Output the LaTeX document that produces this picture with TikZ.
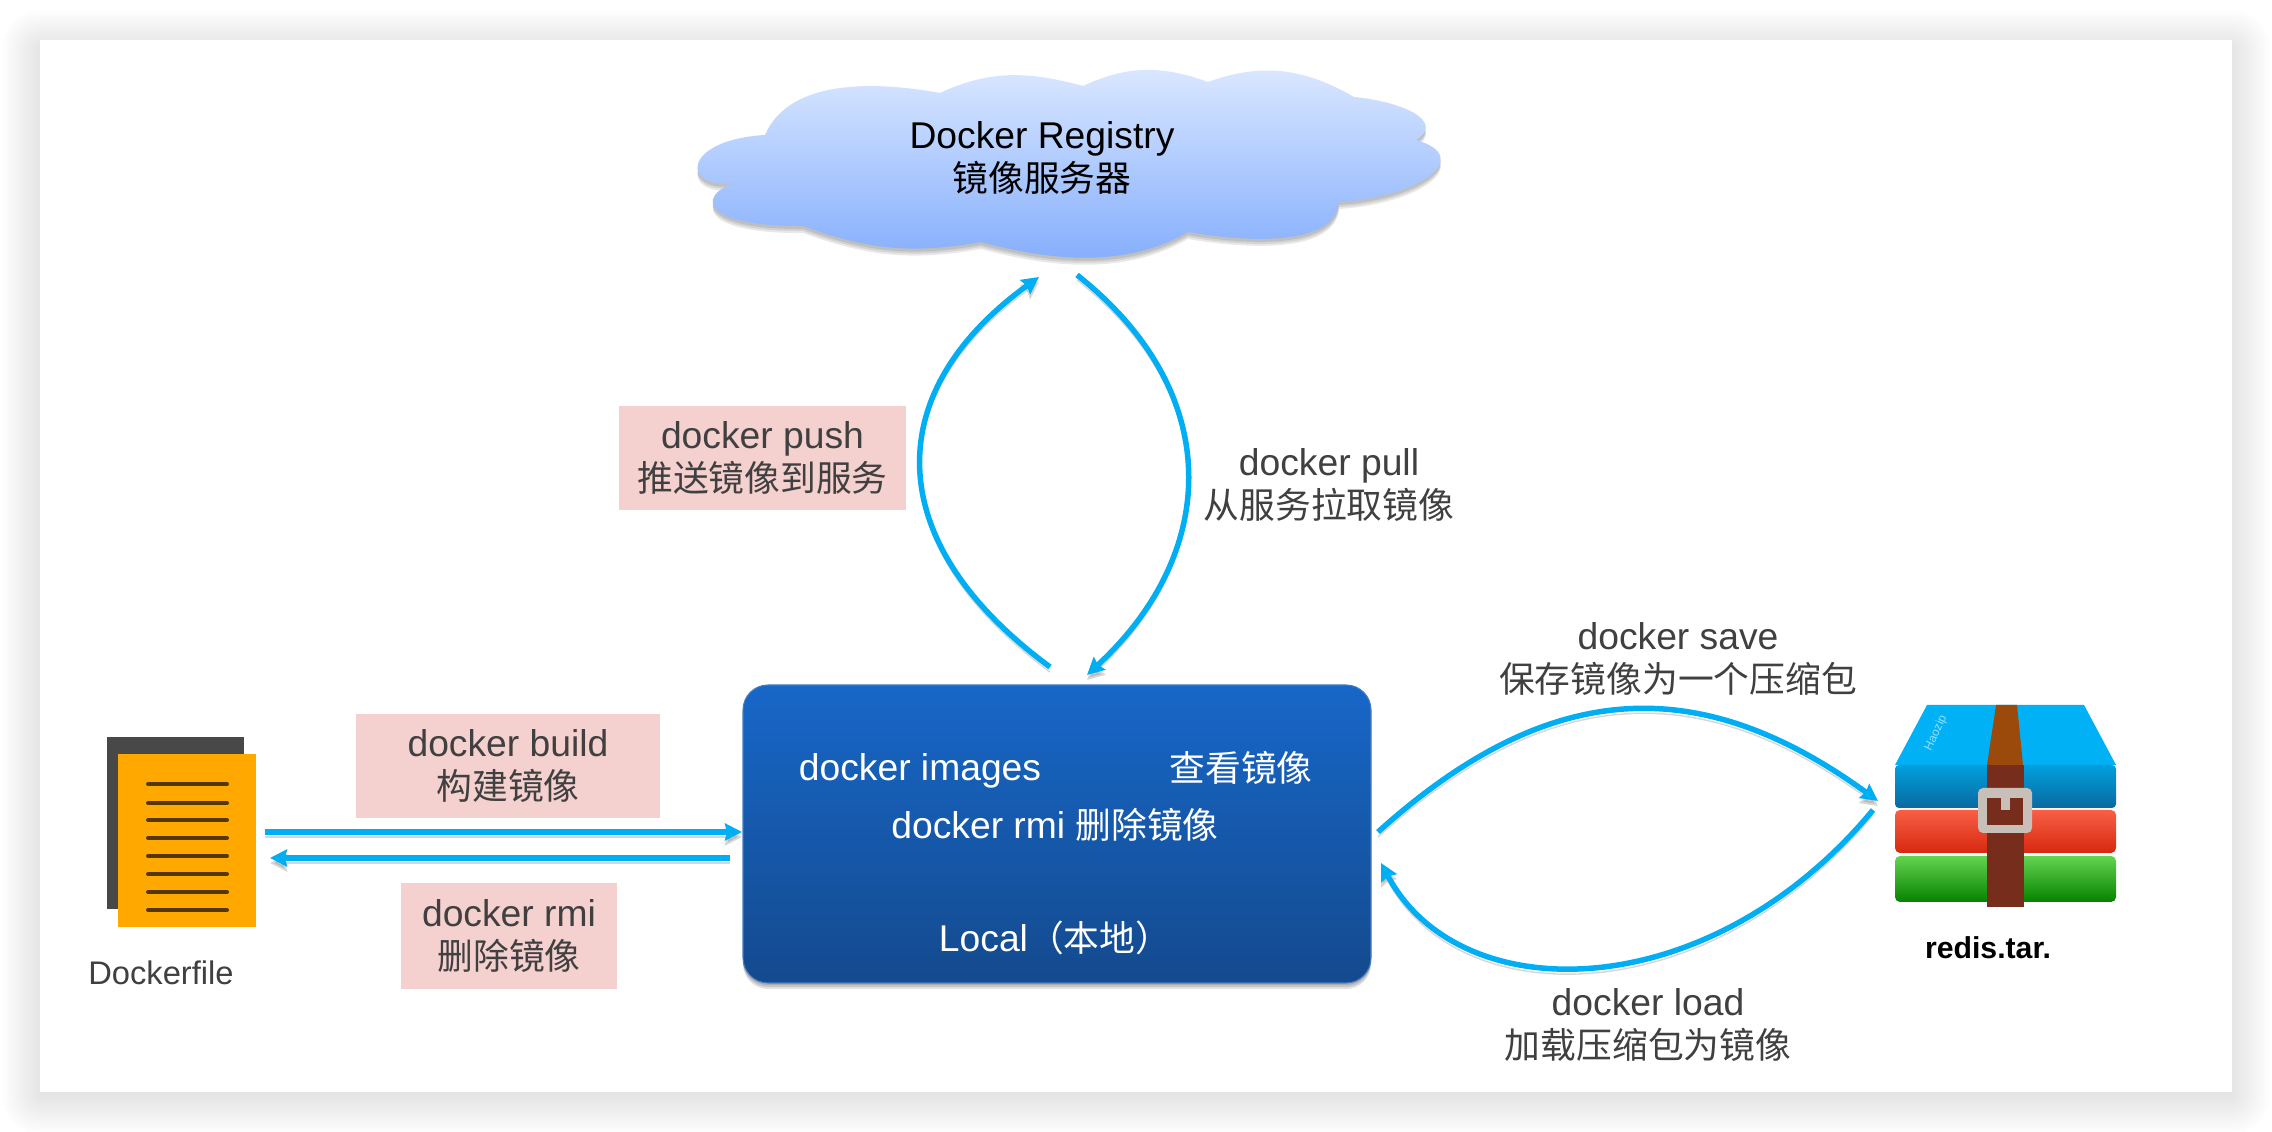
\documentclass[tikz,border=0pt]{standalone}
\usepackage{fontspec}
\usetikzlibrary{arrows.meta}
\setmainfont{Liberation Sans}
\newfontfamily\cjk[Scale=0.96]{Noto Sans CJK SC}
\newcommand{\zh}[1]{{\cjk #1}}
\definecolor{arrowblue}{HTML}{00AEF3}
\definecolor{labelpink}{HTML}{F4D0CF}
\definecolor{labelgrey}{HTML}{404040}
\definecolor{cloudtop}{HTML}{DCE9FF}
\definecolor{cloudbot}{HTML}{82ACFC}
\definecolor{localtop}{HTML}{1767C8}
\definecolor{localbot}{HTML}{144A8E}
\definecolor{localrim}{HTML}{467DBE}
\definecolor{pageback}{HTML}{484848}
\definecolor{pagefront}{HTML}{FFA800}
\definecolor{pageline}{HTML}{553705}
\definecolor{rartop}{HTML}{00B2F5}
\definecolor{rarblueA}{HTML}{00A0DE}
\definecolor{rarblueB}{HTML}{0A69A0}
\definecolor{rarredA}{HTML}{F76046}
\definecolor{rarredB}{HTML}{D7280F}
\definecolor{rargreenA}{HTML}{64D450}
\definecolor{rargreenB}{HTML}{058200}
\definecolor{strapA}{HTML}{9C4A0C}
\definecolor{strapB}{HTML}{772D1B}
\definecolor{buckle}{HTML}{C8C0B8}
\tikzset{
lbl/.style={align=center, text=labelgrey, inner sep=0pt, font=\fontsize{10.6}{12}\selectfont},
pinkbox/.style={fill=labelpink, minimum height=#1, inner sep=0pt},
flow/.style={draw=arrowblue, line width=0.055cm, -{Stealth[length=0.17cm,width=0.17cm,inset=0.02cm]},
	preaction={draw=black!45, opacity=0.35, transform canvas={yshift=-0.05cm}}},
inbox/.style={text=white, inner sep=0pt, font=\fontsize{10.6}{12}\selectfont}
}
\newcommand{\cloudpath}{(9.40,10.39) to[out=25,in=165] (10.83,10.46) to[out=25,in=160] (12.08,10.50) to[out=20,in=150] (13.54,10.35)
	.. controls (14.05,10.30) and (14.45,10.10) .. (14.16,9.92) .. controls (14.75,9.75) and (14.20,9.35) .. (13.39,9.30)
	to[out=-95,in=-10,looseness=0.8] (11.88,9.00) to[out=-150,in=-15,looseness=0.9] (9.81,8.90) to[out=-170,in=-20] (8.03,9.06)
	.. controls (7.05,9.05) and (6.95,9.35) .. (7.34,9.49) .. controls (6.81,9.42) and (6.81,9.92) .. (7.65,9.97)
	.. controls (7.90,10.55) and (8.80,10.50) .. (9.40,10.39) -- cycle}
\begin{document}
\begin{tikzpicture}
\useasboundingbox (0,0) rectangle (22.72,11.32);
% card
\fill[white] (0,0) rectangle (22.72,11.32);
\foreach \s in {0.38,0.35,...,0.02}{
	\fill[black, opacity=0.008, rounded corners=\s cm] (0.40-\s,0.36-\s) rectangle (22.32+\s,10.84+\s);
}
\fill[white] (0.40,0.40) rectangle (22.32,10.92);

% cloud
\foreach \s in {0.07,0.05,0.03}{
	\fill[black, opacity=0.09, yshift=-\s cm] \cloudpath;
}
\shade[top color=cloudtop, bottom color=cloudbot] \cloudpath;
\node[align=center, inner sep=0pt, font=\fontsize{10.6}{12}\selectfont] (registry) at (10.42,9.74) {Docker Registry\\\zh{镜像服务器}};

% local box
\foreach \s in {0.06,0.04,0.02}{
	\fill[black, opacity=0.12, rounded corners=0.25cm, yshift=-\s cm] (7.43,1.49) rectangle (13.71,4.47);
}
\draw[draw=localrim, line width=0.3pt, rounded corners=0.25cm, top color=localtop, bottom color=localbot] (7.43,1.49) rectangle (13.71,4.47);
\node[inbox] (images) at (9.20,3.61) {docker images};
\node[inbox] (look) at (12.41,3.64) {\zh{查看镜像}};
\node[inbox] (rmi) at (10.55,3.07) {docker rmi \zh{删除镜像}};
\node[inbox] (local) at (10.55,1.94) {Local\zh{（本地）}};

% dockerfile icon
\fill[pageback] (1.07,2.23) rectangle (2.44,3.95);
\fill[pagefront] (1.18,2.05) rectangle (2.56,3.78);
\foreach \y in {3.48,3.29,3.12,2.94,2.76,2.58,2.40,2.22}{
	\draw[line width=0.04cm, line cap=round, draw=pageline] (1.48,\y) -- (2.27,\y);
}
\node[lbl, font=\fontsize{9.3}{11}\selectfont] (dockerfile) at (1.61,1.59) {Dockerfile};

% rar icon
\fill[rartop] (18.95,3.67) -- (19.27,4.27) -- (20.84,4.27) -- (21.16,3.67) -- cycle;
\draw[rounded corners=0.04cm, draw=none, top color=rarblueA, bottom color=rarblueB] (18.95,3.24) rectangle (21.16,3.67);
\draw[rounded corners=0.05cm, draw=none, top color=rarredA, bottom color=rarredB] (18.95,2.79) rectangle (21.16,3.22);
\draw[rounded corners=0.05cm, draw=none, top color=rargreenA, bottom color=rargreenB] (18.95,2.30) rectangle (21.16,2.76);
\fill[strapA] (19.96,4.27) -- (20.17,4.27) -- (20.23,3.67) -- (19.87,3.67) -- cycle;
\fill[strapB] (19.87,2.25) rectangle (20.24,3.67);
\fill[rounded corners=0.05cm, buckle] (19.78,2.99) rectangle (20.32,3.44);
\fill[strapB] (19.87,3.07) rectangle (20.23,3.34);
\fill[buckle] (20.01,3.22) rectangle (20.10,3.34);
\node[rotate=65, text=white!60!cyan, inner sep=0pt, font=\fontsize{3.4}{4}\selectfont] (haozip) at (19.36,3.99) {Haozip};
\node[inner sep=0pt, font=\fontsize{8.6}{11}\bfseries\selectfont] (rartext) at (19.88,1.84) {redis.tar.};

% labels
\node[pinkbox=1.04cm, minimum width=2.87cm] (pushbox) at (7.625,6.74) {};
\node[lbl] (pushtext) at (pushbox) {docker push\\\zh{推送镜像到服务}};
\node[pinkbox=1.04cm, minimum width=3.04cm] (buildbox) at (5.08,3.66) {};
\node[lbl] (buildtext) at (buildbox) {docker build\\\zh{构建镜像}};
\node[pinkbox=1.06cm, minimum width=2.16cm] (rmibox) at (5.09,1.96) {};
\node[lbl] (rmitext) at (rmibox) {docker rmi\\\zh{删除镜像}};
\node[lbl] (pulltext) at (13.29,6.47) {docker pull\\\zh{从服务拉取镜像}};
\node[lbl] (savetext) at (16.78,4.73) {docker save\\\zh{保存镜像为一个压缩包}};
\node[lbl] (loadtext) at (16.48,1.07) {docker load\\\zh{加载压缩包为镜像}};

% arrows
\coordinate (pushA) at (10.50,4.65);
\coordinate (pushB) at (10.39,8.55);
\coordinate (pullA) at (10.77,8.57);
\coordinate (pullB) at (10.87,4.57);
\coordinate (buildA) at (2.65,3.00);
\coordinate (buildB) at (7.42,3.00);
\coordinate (backA) at (7.30,2.74);
\coordinate (backB) at (2.70,2.74);
\coordinate (saveA) at (13.78,3.00);
\coordinate (saveB) at (18.78,3.31);
\coordinate (loadA) at (18.73,3.22);
\coordinate (loadB) at (13.81,2.69);

\draw[flow] (pushA) .. controls (8.8,5.9) and (8.8,7.4) .. (pushB);
\draw[flow] (pullA) .. controls (12.25,7.4) and (12.2,5.8) .. (pullB);
\draw[flow] (buildA) -- (buildB);
\draw[flow] (backA) -- (backB);
\draw[flow] (saveA) .. controls (15.5,4.55) and (17.0,4.6) .. (saveB);
\draw[flow] (loadA) .. controls (17.1,1.25) and (14.6,1.2) .. (loadB);
\end{tikzpicture}
\end{document}
